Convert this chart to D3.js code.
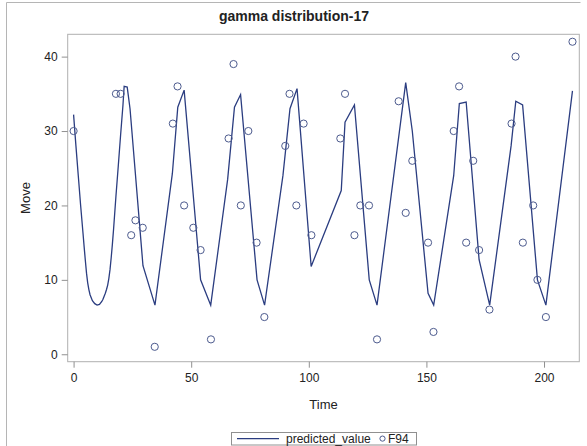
<!DOCTYPE html>
<html>
<head>
<meta charset="utf-8">
<script src="https://cdn.jsdelivr.net/npm/d3@7"></script>
<style>
  body { margin: 0; background: #fff; }
  text { font-family: "Liberation Sans", Arial, sans-serif; fill: #222; }
</style>
</head>
<body>
<svg id="chart" width="587" height="446"></svg>
<script>
// observed series (F94)
const obsTime = [0, 18, 20, 24.5, 26.3, 29.4, 34.5, 42.2, 44.2, 47, 50.9, 54, 58.4,
  65.9, 68, 71.1, 74.3, 77.8, 81.1, 90, 91.8, 94.7, 97.8, 101.1, 113.4, 115.4,
  119.4, 121.9, 125.6, 129, 138.2, 141.2, 144, 150.7, 153, 161.6, 163.9, 166.9,
  169.9, 172.4, 176.8, 186.2, 187.9, 191, 195.4, 197.2, 200.8, 212.1];
const obsValue = [30, 35, 35, 16, 18, 17, 1, 31, 36, 20, 17, 14, 2,
  29, 39, 20, 30, 15, 5, 28, 35, 20, 31, 16, 29, 35,
  16, 20, 20, 2, 34, 19, 26, 15, 3, 30, 36, 15,
  26, 14, 6, 31, 40, 15, 20, 10, 5, 42];

// predicted_value line
const predTime = [0, 1, 2, 3, 4, 4.5, 5, 5.5, 6, 6.5, 7, 7.5, 8, 9, 10, 11, 12, 12.5,
  13, 13.5, 14, 14.5, 15, 15.5, 16, 16.5, 17, 18, 19, 20, 21, 21.5, 22.8, 24, 29.5,
  34.6, 42, 44.3, 47, 54, 58.3, 65.5, 68.4, 71, 78, 81.2, 89, 92, 95, 101, 113.8,
  115.4, 119.4, 125.7, 129, 141.2, 144, 150.7, 153.1, 161.6, 164, 166.9, 172.4,
  176.9, 186, 188, 190.9, 197.2, 200.8, 212.1];
const predValue = [32.2, 28, 24, 20, 16.3, 14.4, 12.6, 10.9, 9.6, 8.7, 8.0, 7.6, 7.2,
  6.8, 6.6, 6.7, 7.1, 7.4, 7.8, 8.2, 8.7, 9.3, 10.2, 11.4, 13.0, 14.8, 16.8, 21.2,
  25.3, 29.5, 33.5, 36, 35.9, 33, 11.9, 6.6, 24.3, 33.2, 35.5, 10, 6.6, 23.5, 33.2,
  34.9, 10, 6.6, 24, 33, 35.7, 11.8, 22, 31.2, 33.5, 10, 6.6, 36.5, 30, 8.2, 6.6,
  24, 33.7, 33.9, 12.7, 6.6, 28, 34, 33.5, 10, 6.6, 35.4];

const xTicks = [0, 50, 100, 150, 200];
const yTicks = [0, 10, 20, 30, 40];

const lineColor = "#2b3d80";
const dotColor = "#4d5b8e";

const svg = d3.select("#chart");

// outer frame (top + left edge)
svg.append("path")
  .attr("d", "M6.5,446 V2.5 H580.5")
  .attr("fill", "none")
  .attr("stroke", "#b5b5b5");

const plotL = 67.7, plotR = 579.3, plotT = 34.3, plotB = 361.7;

const x = d3.scaleLinear().domain([-2.5, 215]).range([plotL, plotR]);
const y = d3.scaleLinear().domain([-1, 43]).range([plotB, plotT]);

// plot frame
svg.append("rect")
  .attr("x", plotL).attr("y", plotT)
  .attr("width", plotR - plotL).attr("height", plotB - plotT)
  .attr("fill", "none")
  .attr("stroke", "#b0b0b0");

// axes
const xAxis = svg.append("g")
  .attr("transform", `translate(0,${plotB})`)
  .call(d3.axisBottom(x).tickValues(xTicks).tickSize(6).tickPadding(6));
const yAxis = svg.append("g")
  .attr("transform", `translate(${plotL},0)`)
  .call(d3.axisLeft(y).tickValues(yTicks).tickSize(6).tickPadding(4));

[xAxis, yAxis].forEach(g => {
  g.select(".domain").remove();
  g.selectAll(".tick line").attr("stroke", "#909090");
  g.selectAll(".tick text")
    .attr("font-size", 12)
    .attr("fill", "#222")
    .attr("font-family", "'Liberation Sans', Arial, sans-serif");
});

// line
const line = d3.line()
  .x((d, i) => x(predTime[i]))
  .y(d => y(d));

svg.append("path")
  .datum(predValue)
  .attr("fill", "none")
  .attr("stroke", lineColor)
  .attr("stroke-width", 1.3)
  .attr("stroke-linejoin", "miter")
  .attr("d", line);

// markers
svg.append("g")
  .selectAll("circle")
  .data(obsValue)
  .join("circle")
  .attr("cx", (d, i) => x(obsTime[i]))
  .attr("cy", d => y(d))
  .attr("r", 3.6)
  .attr("fill", "none")
  .attr("stroke", dotColor)
  .attr("stroke-width", 1);

// title
svg.append("text")
  .attr("x", 294).attr("y", 21)
  .attr("text-anchor", "middle")
  .attr("font-size", 14)
  .attr("font-weight", "bold")
  .text("gamma distribution-17");

// axis labels
svg.append("text")
  .attr("x", (plotL + plotR) / 2).attr("y", 409)
  .attr("text-anchor", "middle")
  .attr("font-size", 13)
  .text("Time");

svg.append("text")
  .attr("transform", `translate(30,${(plotT + plotB) / 2}) rotate(-90)`)
  .attr("text-anchor", "middle")
  .attr("font-size", 13)
  .text("Move");

// legend
const lg = svg.append("g");
lg.append("rect")
  .attr("x", 231.5).attr("y", 432.5)
  .attr("width", 185).attr("height", 12.5)
  .attr("fill", "none")
  .attr("stroke", "#909090");
lg.append("line")
  .attr("x1", 237).attr("x2", 279)
  .attr("y1", 438.6).attr("y2", 438.6)
  .attr("stroke", lineColor)
  .attr("stroke-width", 1.2);
lg.append("text")
  .attr("x", 286).attr("y", 443)
  .attr("font-size", 12)
  .text("predicted_value");
lg.append("circle")
  .attr("cx", 382.5).attr("cy", 438.6)
  .attr("r", 2.6)
  .attr("fill", "none")
  .attr("stroke", dotColor);
lg.append("text")
  .attr("x", 388).attr("y", 443)
  .attr("font-size", 12)
  .text("F94");
</script>
</body>
</html>
